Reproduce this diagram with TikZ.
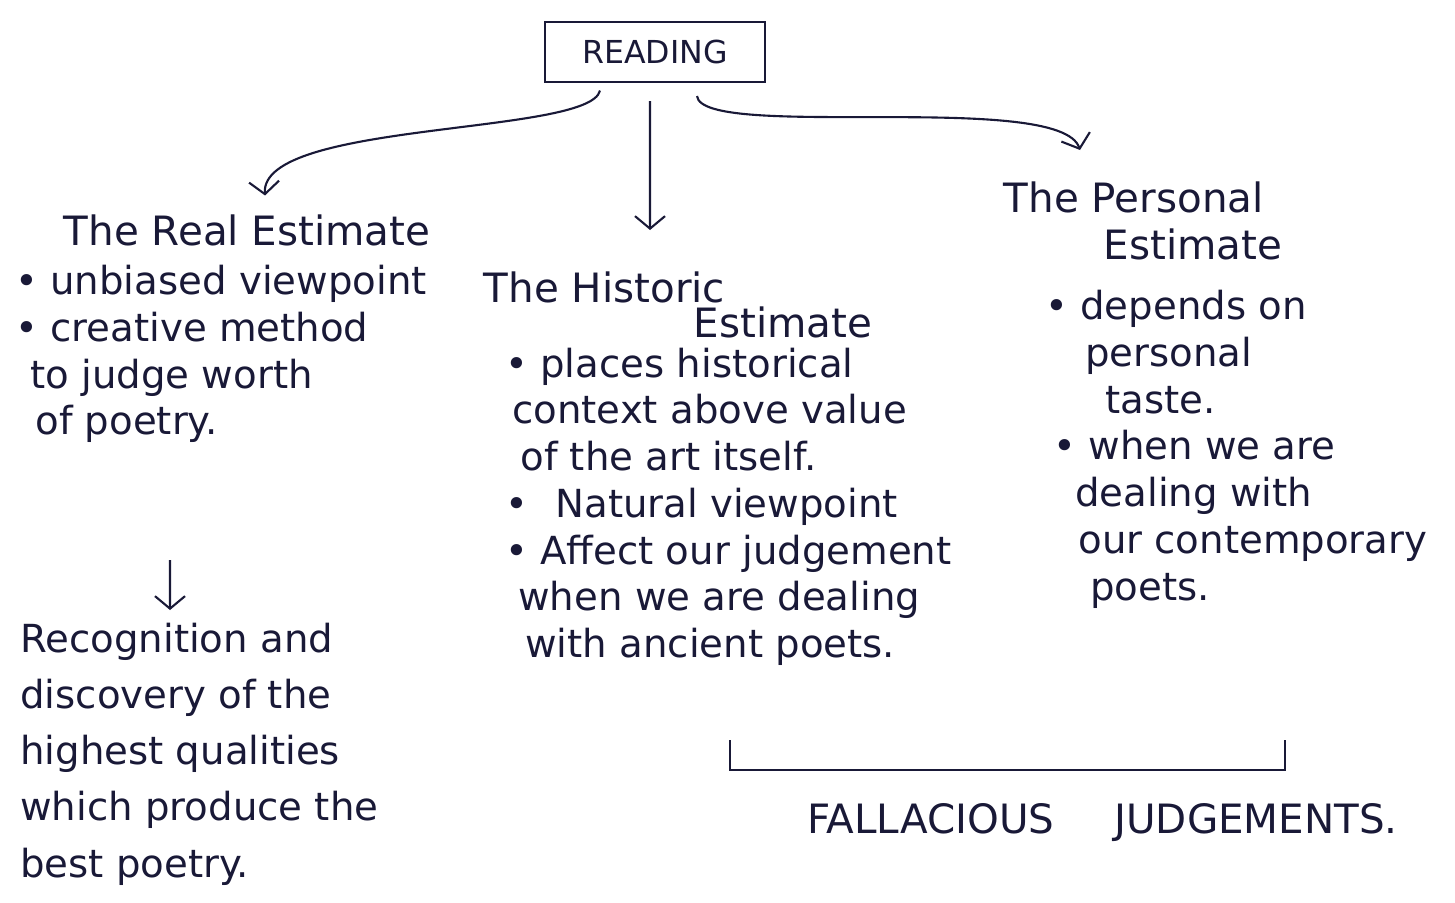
\documentclass[tikz,border=0pt]{standalone}
\usepackage{fontspec}
\setmainfont{DejaVu Sans}
\usepackage{tikz}
\usetikzlibrary{arrows.meta,positioning}
\definecolor{ink}{RGB}{25,25,55}

\begin{document}
\begin{tikzpicture}[
    branch/.style={line width=1.2pt, ink, -{Straight Barb[length=2.5mm,width=6mm]}},
    head/.style={font=\fontsize{23}{20}\selectfont, inner sep=2pt},
    notes/.style={font=\fontsize{22}{26.6}\selectfont, align=left, anchor=north west, inner sep=0pt},
    every node/.style={color=ink}
    ]
\useasboundingbox (0,0) rectangle (29.1,-18.04);

\node[draw, line width=1.2pt, minimum width=4.4cm, minimum height=1.2cm, font=\fontsize{18}{20}\selectfont] (reading) at (13.1,-1.04) {READING};

\node[head, anchor=west] (realtitle) at (1.2,-4.6) {The Real Estimate};
\node[notes] (realbody) at (0.3,-5.3) {\textbullet\ unbiased viewpoint\\
  \textbullet\ creative method\\
  \hspace{0.3cm}to judge worth\\
  \hspace{0.4cm}of poetry.};
\coordinate (realdown) at (3.4,-11.2);
\node[notes, font=\fontsize{22}{32}\selectfont] (recog) at (0.4,-12.45) {Recognition and\\
  discovery of the\\
  highest qualities\\
  which produce the\\
  best poetry.};

\node[head, align=left, anchor=north west] (histtitle) at (9.6,-5.35) {The Historic\\ \hspace{4.2cm}Estimate};
\node[notes] (histbody) at (10.1,-6.95) {\textbullet\ places historical\\
  \hspace{0.14cm}context above value\\
  \hspace{0.3cm}of the art itself.\\
  \textbullet\ \hspace{0.3cm}Natural viewpoint\\
  \textbullet\ Affect our judgement\\
  \hspace{0.26cm}when we are dealing\\
  \hspace{0.4cm}with ancient poets.};

\node[head, align=left, anchor=north west] (perstitle) at (20.0,-3.55) {The Personal\\[0.25cm] \hspace{2cm}Estimate};
\node[notes] (persbody) at (20.9,-5.8) {\textbullet\ depends on\\
  \hspace{0.8cm}personal\\
  \hspace{1.2cm}taste.\\
  \hspace{0.16cm}\textbullet\ when we are\\
  \hspace{0.6cm}dealing with\\
  \hspace{0.66cm}our contemporary\\
  \hspace{0.9cm}poets.};

% arrows out of READING
\draw[branch] ([xshift=-1.1cm,yshift=-0.15cm]reading.south) .. controls +(-0.2,-0.9) and +(-0.1,1.5) .. ([xshift=4.1cm,yshift=0.3cm]realtitle.north west);
\draw[branch] ([xshift=-0.1cm,yshift=-0.36cm]reading.south) -- ([xshift=3.4cm,yshift=0.75cm]histtitle.north west);
\draw[branch] ([xshift=0.84cm,yshift=-0.26cm]reading.south) .. controls +(0.1,-0.9) and +(-0.4,1.2) .. ([xshift=1.6cm,yshift=0.55cm]perstitle.north west);
\draw[branch] (realdown) -- ([xshift=3.0cm,yshift=0.25cm]recog.north west);

% bracket under the two estimates
\draw[line width=1.2pt, ink] (14.6,-14.8) -- (14.6,-15.4) -- (25.7,-15.4) -- (25.7,-14.8);
\node[head] (fallacy) at (22.05,-16.45) {FALLACIOUS\hspace{1.2cm}JUDGEMENTS.};
\end{tikzpicture}
\end{document}
